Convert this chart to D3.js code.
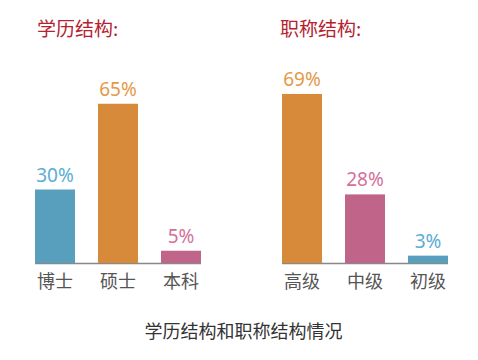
<!DOCTYPE html>
<html><head><meta charset="utf-8">
<script src="https://cdn.jsdelivr.net/npm/d3@7"></script>
<style>html,body{margin:0;padding:0;background:#fff;}</style>
</head><body>
<script>
const eduCategories = ["博士", "硕士", "本科"];
const eduValues = [30, 65, 5];
const titleCategories = ["高级", "中级", "初级"];
const titleValues = [69, 28, 3];
const panelTitles = ["学历结构:", "职称结构:"];
const chartTitle = "学历结构和职称结构情况";

const W = 478, H = 360;
const font = "'Noto Sans CJK SC','Noto Sans',sans-serif";
const svg = d3.select("body").append("svg").attr("width", W).attr("height", H);

const baseY = 263;
const y = d3.scaleLinear().domain([0, 100]).range([baseY, baseY - 245]);

const barColors = {blue: "#579fbd", orange: "#d68a3a", pink: "#c06489"};
const labelColors = {blue: "#5aaed4", orange: "#e39a47", pink: "#d3709b"};

const panels = [
  {cats: eduCategories, vals: eduValues, colors: ["blue", "orange", "pink"], range: [35, 201], titleX: 37, title: panelTitles[0]},
  {cats: titleCategories, vals: titleValues, colors: ["orange", "pink", "blue"], range: [282, 448], titleX: 280, title: panelTitles[1]}
];

panels.forEach(p => {
  const x = d3.scaleBand().domain(p.cats).range(p.range).paddingInner(0.365).paddingOuter(0);
  const g = svg.append("g");
  g.append("text").attr("x", p.titleX).attr("y", 36)
    .attr("font-family", font).attr("font-size", 19).attr("fill", "#b5222f")
    .text(p.title);
  g.append("line").attr("x1", p.range[0]).attr("x2", p.range[1])
    .attr("y1", baseY + 0.5).attr("y2", baseY + 0.5)
    .attr("stroke", "#888").attr("stroke-width", 1.5);
  p.cats.forEach((c, i) => {
    const v = p.vals[i];
    g.append("rect").attr("x", x(c)).attr("width", x.bandwidth())
      .attr("y", y(v)).attr("height", baseY - y(v))
      .attr("fill", barColors[p.colors[i]]);
    g.append("text").attr("x", x(c) + x.bandwidth() / 2).attr("y", y(v) - 8)
      .attr("text-anchor", "middle").attr("font-family", "'Noto Sans',sans-serif")
      .attr("font-size", 19).attr("fill", labelColors[p.colors[i]])
      .text(v + "%");
    g.append("text").attr("x", x(c) + x.bandwidth() / 2).attr("y", 288)
      .attr("text-anchor", "middle").attr("font-family", font)
      .attr("font-size", 18).attr("fill", "#555")
      .text(c);
  });
});

svg.append("text").attr("x", 243.5).attr("y", 338)
  .attr("text-anchor", "middle").attr("font-family", font)
  .attr("font-size", 18).attr("fill", "#333")
  .text(chartTitle);
</script>
</body></html>
